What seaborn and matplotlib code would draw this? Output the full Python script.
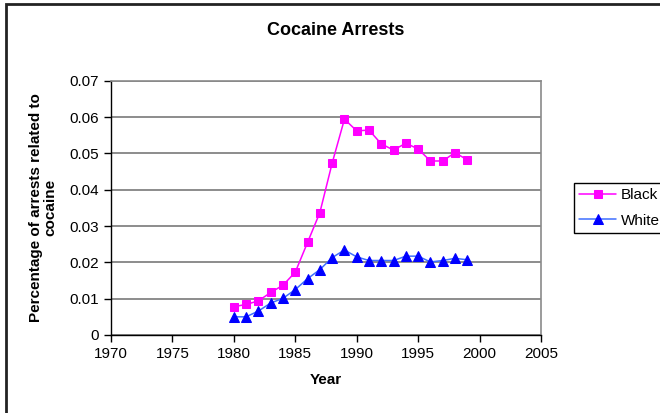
import matplotlib
matplotlib.use("Agg")
import matplotlib.pyplot as plt
import seaborn as sns
import pandas as pd
from matplotlib.patches import Rectangle

years = list(range(1980, 2000))
black = [0.0078, 0.0084, 0.0094, 0.0117, 0.0137, 0.0173, 0.0255, 0.0337, 0.0473, 0.0594,
         0.0562, 0.0564, 0.0526, 0.0509, 0.0528, 0.0512, 0.0479, 0.0479, 0.0502, 0.0482]
white = [0.0050, 0.0050, 0.0066, 0.0088, 0.0101, 0.0125, 0.0155, 0.0180, 0.0213, 0.0234,
         0.0215, 0.0205, 0.0205, 0.0205, 0.0217, 0.0217, 0.0201, 0.0205, 0.0211, 0.0207]
x_ticks = [1970, 1975, 1980, 1985, 1990, 1995, 2000, 2005]
y_ticks = [0, 0.01, 0.02, 0.03, 0.04, 0.05, 0.06, 0.07]
y_tick_labels = ["0", "0.01", "0.02", "0.03", "0.04", "0.05", "0.06", "0.07"]

df = pd.DataFrame({"Year": years, "Black": black, "White": white})

sns.set_theme(style="white")
plt.rcParams["font.family"] = ["Liberation Sans", "DejaVu Sans"]
plt.rcParams["text.color"] = "black"
plt.rcParams["axes.labelcolor"] = "black"
plt.rcParams["xtick.color"] = "black"
plt.rcParams["ytick.color"] = "black"

fig = plt.figure(figsize=(6.6, 4.13), dpi=100)
ax = fig.add_axes([0.1682, 0.1889, 0.6515, 0.6157])

sns.lineplot(data=df, x="Year", y="Black", ax=ax, color="#FF00FF", lw=1.1,
             marker="s", markersize=5.5, markerfacecolor="#FF00FF",
             markeredgecolor="#FF00FF", label="Black")
sns.lineplot(data=df, x="Year", y="White", ax=ax, color="#3F6FFF", lw=1.1,
             marker="^", markersize=6.8, markerfacecolor="#0000FF",
             markeredgecolor="#0000FF", label="White")

ax.set_xlim(1970, 2005)
ax.set_ylim(0, 0.07)
ax.set_xticks(x_ticks)
ax.set_xticklabels([str(t) for t in x_ticks], fontsize=11)
ax.set_yticks(y_ticks)
ax.set_yticklabels(y_tick_labels, fontsize=11)
ax.yaxis.grid(True, color="#6e6e6e", lw=1.1)
ax.set_axisbelow(True)
ax.tick_params(axis="both", direction="out", length=5, width=1, color="black",
               labelcolor="black", left=True, bottom=True, pad=4)

for side in ("left", "bottom"):
    ax.spines[side].set_color("black")
    ax.spines[side].set_linewidth(1)
for side in ("top", "right"):
    ax.spines[side].set_color("#8a8a8a")
    ax.spines[side].set_linewidth(1.2)

ax.set_xlabel("Year", fontsize=11, fontweight="bold", labelpad=8, color="black")
ax.set_ylabel("Percentage of arrests related to\ncocaine", fontsize=11,
              fontweight="bold", labelpad=8, linespacing=1.1, color="black")

fig.text(0.509, 0.927, "Cocaine Arrests", ha="center", va="center",
         fontsize=13, fontweight="bold", color="black")

leg = ax.legend(loc="center left", bbox_to_anchor=(1.077, 0.5), fontsize=11,
                frameon=True, fancybox=False, edgecolor="black", framealpha=1,
                borderpad=0.35, handlelength=2.4, handletextpad=0.3, labelspacing=0.75,
                borderaxespad=0)
leg.get_frame().set_linewidth(1)
for t in leg.get_texts():
    t.set_color("black")

fig.patches.append(Rectangle((6 / 660, -0.05), 1.2, 1 - 4 / 413 + 0.05,
                             transform=fig.transFigure, fill=False,
                             edgecolor="#222222", lw=2, zorder=10))

fig.savefig("out.png", dpi=100)
